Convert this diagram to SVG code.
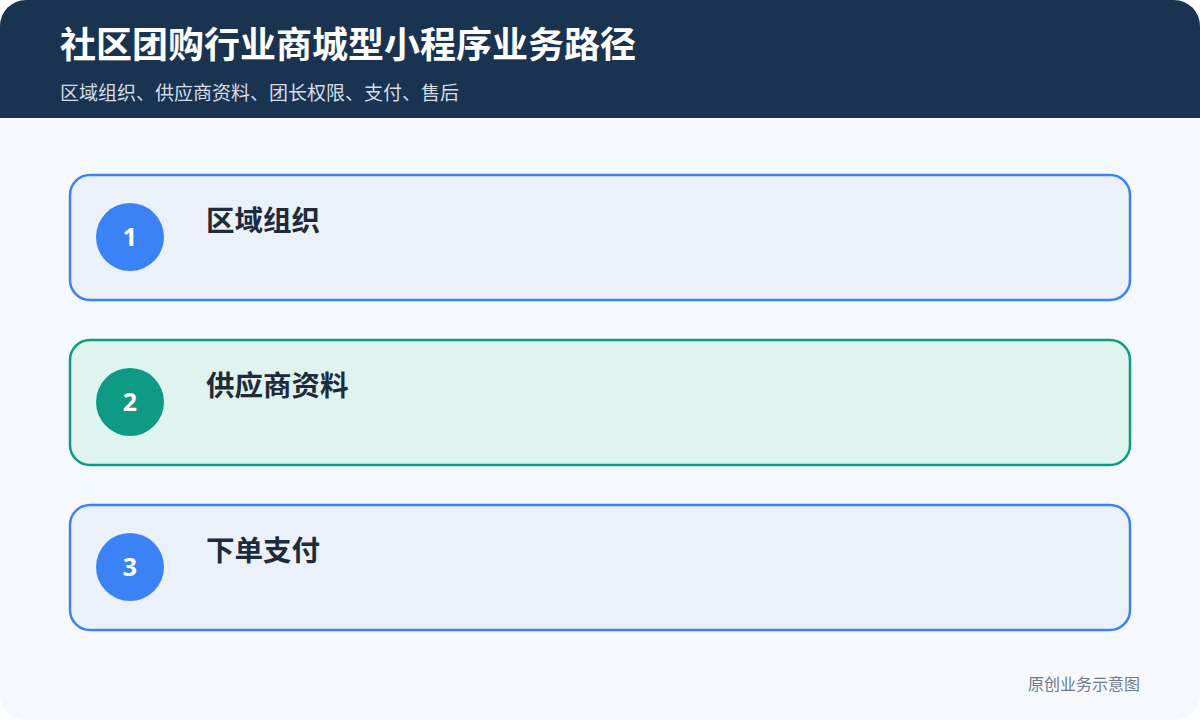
<svg xmlns="http://www.w3.org/2000/svg" width="1200" height="720" viewBox="0 0 1200 720">
<defs>
<style>
.t{font-family:"Noto Sans CJK SC","Noto Sans",sans-serif}
.title{font-size:36px;font-weight:700;fill:#ffffff}
.sub{font-size:19px;fill:#d5dde8}
.lbl{font-size:28.5px;font-weight:700;fill:#1f2a3a}
.num{font-family:"Noto Sans","Open Sans",sans-serif;font-size:25px;font-weight:700;fill:#ffffff}
.foot{font-size:16px;fill:#6b7a90}
.blue rect{fill:#eaf1f9;stroke:#3b82f6;stroke-width:2.5}
.blue circle{fill:#3b82f6}
.green rect{fill:#dff3ef;stroke:#0e9a85;stroke-width:2.5}
.green circle{fill:#0e9a85}
</style>
<clipPath id="c"><rect x="0" y="0" width="1200" height="720" rx="26"/></clipPath>
</defs>
<rect width="1200" height="720" fill="#ffffff"/>
<g clip-path="url(#c)">
<rect width="1200" height="720" fill="#f5f8fd"/>
<rect width="1200" height="118" fill="#1a3350"/>
</g>
<text class="t title" x="60" y="58">社区团购行业商城型小程序业务路径</text>
<text class="t sub" x="60" y="100">区域组织、供应商资料、团长权限、支付、售后</text>
<g id="connectors"></g>
<g id="node1" class="blue">
<rect x="70" y="175" width="1060" height="125" rx="20"/>
<circle cx="130" cy="237" r="34"/>
<text class="num" x="130" y="246" text-anchor="middle">1</text>
<text class="t lbl" x="206" y="231">区域组织</text>
</g>
<g id="node2" class="green">
<rect x="70" y="340" width="1060" height="125" rx="20"/>
<circle cx="130" cy="402" r="34"/>
<text class="num" x="130" y="411" text-anchor="middle">2</text>
<text class="t lbl" x="206" y="396">供应商资料</text>
</g>
<g id="node3" class="blue">
<rect x="70" y="505" width="1060" height="125" rx="20"/>
<circle cx="130" cy="567" r="34"/>
<text class="num" x="130" y="576" text-anchor="middle">3</text>
<text class="t lbl" x="206" y="561">下单支付</text>
</g>
<text class="t foot" x="1140" y="690" text-anchor="end">原创业务示意图</text>
</svg>
